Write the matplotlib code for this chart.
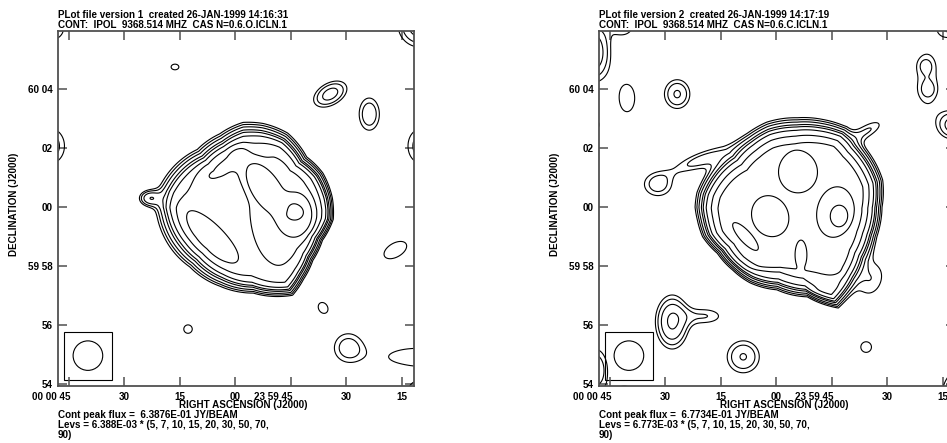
import numpy as np
import matplotlib
matplotlib.use('Agg')
import matplotlib.pyplot as plt
from matplotlib.patches import Rectangle, Ellipse
from matplotlib.transforms import ScaledTranslation

plt.rcParams['font.family'] = ['Liberation Sans', 'DejaVu Sans']
plt.rcParams['font.weight'] = 'bold'
plt.rcParams['font.size'] = 7.1

# ---- header / footer text of the two AIPS plot files
title1 = ['PLot file version 1  created 26-JAN-1999 14:16:31',
          'PLot file version 2  created 26-JAN-1999 14:17:19']
title2 = ['CONT:  IPOL  9368.514 MHZ  CAS N=0.6.O.ICLN.1',
          'CONT:  IPOL  9368.514 MHZ  CAS N=0.6.C.ICLN.1']
peak_flux = [6.3876E-01, 6.7734E-01]   # JY/BEAM
lev_unit = [6.388E-03, 6.773E-03]
levs = [5, 7, 10, 15, 20, 30, 50, 70, 90]

# ---- axes, offsets from 00 00 00 +60 00 00 in arcmin (x = east)
ra_ticks = [5.625, 3.75, 1.875, 0.0, -1.875, -3.75, -5.625]
ra_labels = ['00 00 45', '30', '15', '00', '23 59 45', '30', '15']
dec_ticks = [-6, -4, -2, 0, 2, 4]
dec_labels = ['54', '56', '59 58', '00', '02', '60 04']

beam = [1.0, 1.0, 0.0]          # major, minor (arcmin), PA
beam_pos = [4.97, -5.04]
beam_box = 0.81                 # half size of beam box

# ---- main source, version 1 (radius of outer contour vs PA, arcmin)
src1_center = [-0.27, -0.10]
src1_pa = [0, 17, 37, 58, 76, 88, 95, 117, 137, 163, 187, 210, 221, 234,
           249, 264, 278, 295, 310, 330, 347]
src1_r = [2.97, 2.70, 2.57, 2.77, 2.94, 2.97, 2.91, 2.77, 2.64, 2.70, 2.84,
          3.34, 3.11, 2.91, 2.87, 3.06, 3.04, 2.97, 2.80, 3.01, 3.01]
# edge sharpness vs PA
src1_wpa = [0, 60, 120, 180, 230, 270, 310]
src1_w = [0.20, 0.22, 0.22, 0.16, 0.13, 0.11, 0.16]
src1_plateau = 0.58
src1_p = 4
# inner structure (flat topped): x, y, amp, sig_maj, sig_min, PA
src1_inner = [(-1.55, 0.00, 0.20, 2.0, 1.05, 0),
              (0.44, 1.49, 0.20, 0.85, 0.40, 126),
              (-0.91, 0.75, 0.30, 1.10, 0.45, 37),
              (-2.03, -0.27, 0.35, 0.65, 0.55, 0),
              (-1.93, -0.17, -0.35, 0.36, 0.30, 80),
              (0.93, -1.03, 0.22, 1.3, 0.50, 46)]
# compact components: x, y, amp, sig_maj, sig_min, PA
src1_blobs = [(2.03, 4.75, 0.055, 0.3, 0.22, 90),
              (-3.21, 3.83, 0.12, 0.46, 0.28, 300),
              (-4.53, 3.15, 0.095, 0.48, 0.30, 0),
              (-6.25, 6.17, 0.13, 0.54, 0.54, 0),
              (-6.25, 2.07, 0.085, 0.55, 0.4, 0),
              (6.25, 2.07, 0.09, 0.55, 0.45, 0),
              (6.18, 6.07, 0.08, 0.4, 0.4, 0),
              (-2.97, -3.42, 0.058, 0.35, 0.28, 30),
              (-3.82, -4.75, 0.085, 0.43, 0.43, 0),
              (-5.41, -1.46, 0.062, 0.64, 0.36, 300),
              (-6.18, -5.08, 0.07, 1.2, 0.35, 90),
              (-6.18, -6.27, 0.08, 0.35, 0.35, 0),
              (1.59, -4.14, 0.056, 0.3, 0.3, 0),
              (6.08, -6.27, 0.07, 0.3, 0.3, 0),
              (2.87, 0.30, 0.13, 0.25, 0.18, 90)]

# ---- main source, version 2
src2_center = [-0.44, -0.17]
src2_pa = [14, 28, 45, 60, 78, 87, 95, 106, 120, 136, 151, 171, 192, 207,
           224, 238, 254, 273, 289, 316, 326, 340, 355]
src2_r = [3.14, 3.01, 2.91, 3.04, 3.18, 3.18, 3.11, 3.04, 2.80, 2.74, 2.74,
          2.67, 2.94, 3.65, 3.31, 3.11, 3.07, 3.14, 3.34, 3.38, 3.48, 3.34,
          3.21]
src2_wpa = [0, 45, 90, 135, 180, 225, 270, 315]
src2_w = [0.20, 0.20, 0.17, 0.13, 0.16, 0.16, 0.15, 0.17]
src2_plateau = 0.82
src2_p = 6
src2_inner = [(-0.74, 1.18, -0.26, 0.65, 0.61, 0),
              (0.20, -0.31, -0.26, 0.66, 0.57, 24),
              (-1.99, -0.17, -0.26, 0.80, 0.57, 350),
              (-2.13, -0.31, -0.20, 0.32, 0.26, 0),
              (1.03, -1.00, -0.26, 0.56, 0.18, 42),
              (-0.84, -1.62, -0.30, 0.45, 0.18, 0),
              (-0.30, -2.45, -0.15, 1.70, 0.35, 90)]
src2_blobs = [(6.18, 5.25, 0.14, 0.7, 0.4, 0),
              (5.14, 6.17, 0.07, 0.35, 0.35, 0),
              (3.34, 3.83, 0.105, 0.4, 0.35, 0),
              (5.03, 3.69, 0.06, 0.75, 0.42, 0),
              (6.22, 2.78, 0.06, 0.35, 0.35, 0),
              (3.51, -3.90, 0.16, 0.6, 0.37, 0),
              (2.40, -3.70, 0.07, 0.55, 0.25, 90),
              (6.11, -5.53, 0.10, 0.6, 0.35, 0),
              (5.10, -6.37, 0.07, 0.35, 0.35, 0),
              (1.11, -5.08, 0.103, 0.45, 0.45, 0),
              (-3.04, -4.75, 0.057, 0.35, 0.35, 0),
              (-3.24, -2.47, 0.065, 0.6, 0.4, 340),
              (-5.10, 4.31, 0.065, 1.0, 0.4, 0),
              (-5.03, 4.81, 0.03, 0.2, 0.2, 0),
              (-5.14, 3.97, 0.03, 0.2, 0.2, 0),
              (-5.88, 6.17, 0.08, 0.4, 0.4, 0),
              (-5.95, 2.78, 0.12, 0.35, 0.35, 0),
              (-3.11, 2.61, 0.07, 0.5, 0.2, 300),
              (-6.05, -6.03, 0.10, 0.5, 0.3, 330),
              (2.57, 1.59, 0.08, 0.8, 0.22, 111),
              (3.99, 0.75, 0.085, 0.42, 0.35, 90)]

# map grid (arcmin)
g = np.arange(-7.5, 7.5, 0.025)
E, N = np.meshgrid(g, g)


def gauss(c, p=2):
    x0, y0, a, smaj, smin, pa = c
    t = np.radians(pa)
    dx, dy = E - x0, N - y0
    u = dx*np.sin(t) + dy*np.cos(t)
    v = dx*np.cos(t) - dy*np.sin(t)
    rho2 = (u/smaj)**2 + (v/smin)**2
    return a*np.exp(-0.5*rho2**(p/2.0))


def make_map(center, pa_pts, r_pts, wpa, wval, plateau, p, inner, blobs):
    dx, dy = E - center[0], N - center[1]
    r = np.hypot(dx, dy)
    pa = np.degrees(np.arctan2(dx, dy)) % 360
    w = np.interp(pa, wpa, wval, period=360)
    redge = np.interp(pa, pa_pts, r_pts, period=360) - w*np.log(plateau/0.05 - 1)
    shell = 1.0/(1.0 + np.exp((r - redge)/w))
    sharp = 1.0/(1.0 + np.exp((r - redge)/(0.4*w)))
    m = plateau*shell + sharp*sum(gauss(c, p) for c in inner)
    return m + sum(gauss(c) for c in blobs)


maps = [make_map(src1_center, src1_pa, src1_r, src1_wpa, src1_w, src1_plateau, src1_p,
                 src1_inner, src1_blobs),
        make_map(src2_center, src2_pa, src2_r, src2_wpa, src2_w, src2_plateau, src2_p,
                 src2_inner, src2_blobs)]

W, H = 947., 443.
fig = plt.figure(figsize=(W/100, H/100), dpi=100)
lefts = [58, 599]

for k in range(2):
    x0 = lefts[k]
    ax = fig.add_axes([x0/W, (H-386)/H, 356/W, 355/H])
    ax.contour(E, N, maps[k]*peak_flux[k], levels=np.array(levs)*lev_unit[k],
               colors='k', linewidths=0.8)
    # beam
    ax.add_patch(Rectangle((beam_pos[0]-beam_box, beam_pos[1]-beam_box), 2*beam_box, 2*beam_box,
                           fill=False, ec='k', lw=0.8))
    ax.add_patch(Ellipse(beam_pos, beam[1], beam[0], angle=beam[2], fill=False, ec='k', lw=0.8))
    ax.set_xlim(5.98, -6.04)
    ax.set_ylim(-6.07, 5.97)
    ax.set_xticks(ra_ticks)
    ax.set_xticklabels(ra_labels)
    ax.set_yticks(dec_ticks)
    ax.set_yticklabels(dec_labels)
    ax.tick_params(direction='in', length=6.5, width=1.1, color='#505050',
                   top=True, right=True, labelsize=7.1, pad=4)
    for s in ax.spines.values():
        s.set_color('#505050')
        s.set_linewidth(1.3)
    for lab in ax.get_xticklabels():
        if len(lab.get_text()) > 2:
            lab.set_ha('right')
            lab.set_transform(lab.get_transform() + ScaledTranslation(1.5/100, 0, fig.dpi_scale_trans))

    fig.text(x0/W, 1-18/H, title1[k], fontsize=7.1, va='baseline')
    fig.text(x0/W, 1-28/H, title2[k], fontsize=7.1, va='baseline')
    fig.text((x0+185.5)/W, 1-408/H, 'RIGHT ASCENSION (J2000)', fontsize=7.1, va='baseline', ha='center')
    fig.text(x0/W, 1-418/H, 'Cont peak flux =  %.4E JY/BEAM' % peak_flux[k], fontsize=7.1, va='baseline')
    fig.text(x0/W, 1-428/H, 'Levs = %.3E * (5, 7, 10, 15, 20, 30, 50, 70,' % lev_unit[k],
             fontsize=7.1, va='baseline')
    fig.text(x0/W, 1-438/H, '90)', fontsize=7.1, va='baseline')
    fig.text((x0-44)/W, 1-204/H, 'DECLINATION (J2000)', fontsize=7.1, rotation=90,
             va='center', ha='center')

fig.savefig('out.png', dpi=100)
